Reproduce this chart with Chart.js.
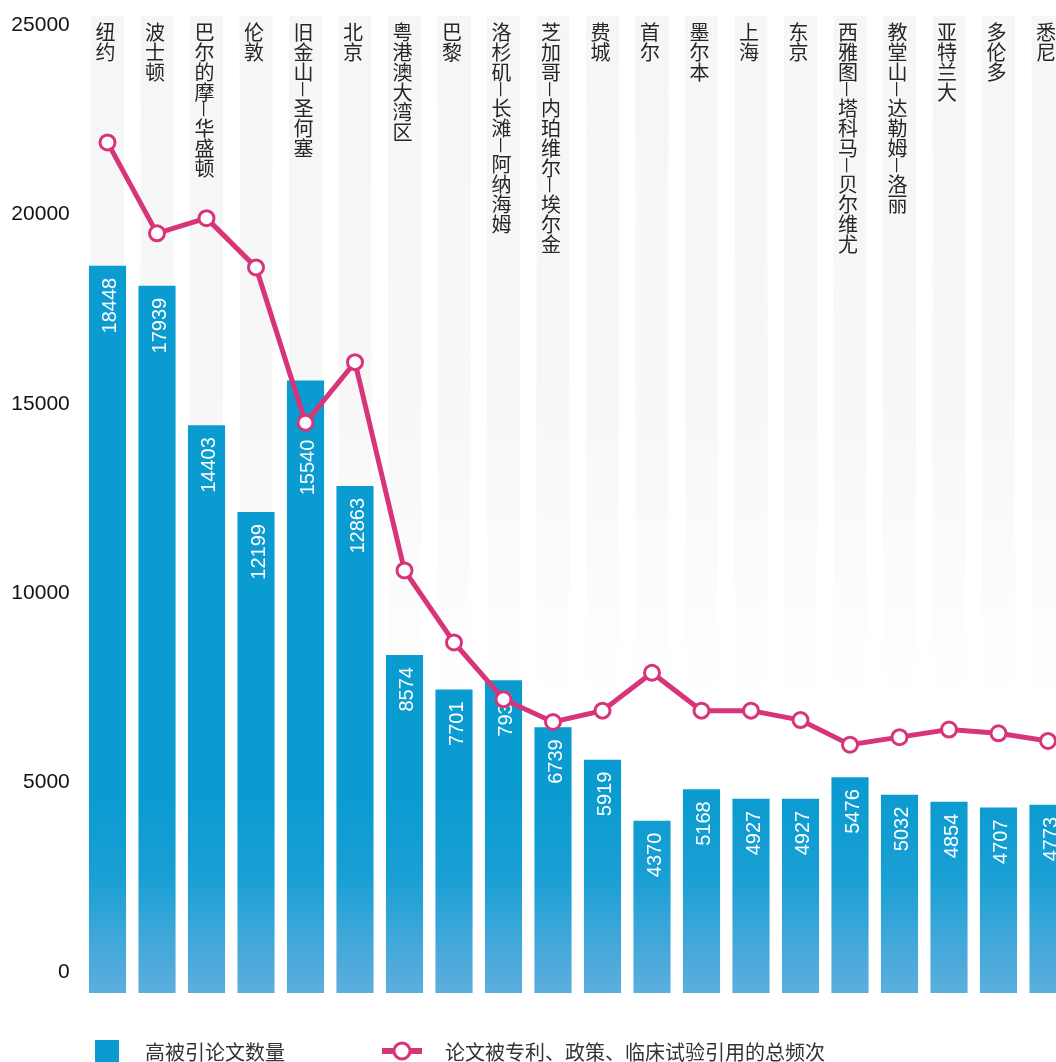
<!DOCTYPE html>
<html lang="zh">
<head>
<meta charset="utf-8">
<title>高被引论文数量与总引用频次</title>
<script src="https://cdn.jsdelivr.net/npm/chart.js@4/dist/chart.umd.min.js"></script>
<style>
  html, body { margin: 0; padding: 0; background: #fff; overflow: hidden; }
  canvas { display: block; }
</style>
</head>
<body>
<canvas id="cityChart" width="1090" height="1062"></canvas>
<script>
// data
const cities = [
  '纽约', '波士顿', '巴尔的摩–华盛顿', '伦敦', '旧金山–圣何塞', '北京',
  '粤港澳大湾区', '巴黎', '洛杉矶–长滩–阿纳海姆', '芝加哥–内珀维尔–埃尔金',
  '费城', '首尔', '墨尔本', '上海', '东京', '西雅图–塔科马–贝尔维尤',
  '教堂山–达勒姆–洛丽', '亚特兰大', '多伦多', '悉尼'
];
const highlyCitedPapers = [
  18448, 17939, 14403, 12199, 15540, 12863, 8574, 7701, 7935, 6739,
  5919, 4370, 5168, 4927, 4927, 5476, 5032, 4854, 4707, 4773
];
const citationFrequency = [
  21900, 19500, 19900, 18600, 14500, 16100, 10600, 8700, 7200, 6600,
  6900, 7900, 6900, 6900, 6650, 6000, 6200, 6400, 6300, 6100
];
const yTicks = [0, 5000, 10000, 15000, 20000, 25000];

const barLabel = '高被引论文数量';
const lineLabel = '论文被专利、政策、临床试验引用的总频次';

const PINK = '#d7347a';
const BLUE = '#0a9bd1';
const CJK = '"Noto Sans CJK SC", "Noto Sans", sans-serif';
const LATIN = '"Liberation Sans", Arial, sans-serif';

/* ─────────────────────────────────────────────
   Plugins
───────────────────────────────────────────── */

// grey stripes behind each category + vertical city names
const stripesPlugin = {
  id: 'stripes',
  beforeDatasetsDraw(chart) {
    const { ctx, chartArea } = chart;
    const x = chart.scales.x;
    const g = ctx.createLinearGradient(0, chartArea.top, 0, 710);
    g.addColorStop(0, '#f5f6f6');
    g.addColorStop(0.55, '#f7f7f7');
    g.addColorStop(1, '#ffffff');
    ctx.save();
    ctx.fillStyle = g;
    cities.forEach((c, i) => {
      const cx = x.getPixelForValue(i);
      ctx.fillRect(cx - 16.5, chartArea.top, 33, 710 - chartArea.top);
    });

    ctx.fillStyle = '#262626';
    ctx.font = '20px ' + CJK;
    ctx.textAlign = 'center';
    ctx.textBaseline = 'middle';
    cities.forEach((c, i) => {
      const cx = x.getPixelForValue(i) - 2;
      let cy = 21;
      for (const ch of c) {
        if (ch === '–') {
          // dash turns upright in vertical writing
          ctx.save();
          ctx.translate(cx + 1, cy + 8);
          ctx.rotate(Math.PI / 2);
          ctx.scale(1.6, 1);
          ctx.fillText(ch, 0, 0);
          ctx.restore();
          cy += 16;
        } else {
          ctx.fillText(ch, cx, cy + 11);
          cy += 20;
        }
      }
    });
    ctx.restore();
  }
};

// white rotated value inside the top of each bar
const barValuesPlugin = {
  id: 'barValues',
  afterDatasetDraw(chart, args) {
    if (args.index !== 0) return;
    const { ctx } = chart;
    const points = chart.getDatasetMeta(1).data;
    ctx.save();
    ctx.fillStyle = '#ffffff';
    ctx.font = '20px ' + LATIN;
    ctx.textAlign = 'right';
    ctx.textBaseline = 'alphabetic';
    args.meta.data.forEach((bar, i) => {
      let top = bar.y + 12;
      // move the label under the marker when the marker sits deep in the bar
      const p = points[i];
      if (p && p.y - bar.y > 30) top = p.y + 17;
      ctx.save();
      ctx.translate(bar.x, top);
      ctx.rotate(-Math.PI / 2);
      ctx.fillText(String(highlyCitedPapers[i]), 0, 8.5);
      ctx.restore();
    });
    ctx.restore();
  }
};

// legend under the plot, left aligned
const legendPlugin = {
  id: 'bottomLegend',
  afterDraw(chart) {
    const { ctx } = chart;
    const y = 1051;
    ctx.save();
    ctx.fillStyle = BLUE;
    ctx.fillRect(95, 1040, 24, 24);

    ctx.strokeStyle = PINK;
    ctx.lineWidth = 6;
    ctx.beginPath();
    ctx.moveTo(382, y);
    ctx.lineTo(422, y);
    ctx.stroke();
    ctx.beginPath();
    ctx.arc(402, y, 8, 0, Math.PI * 2);
    ctx.fillStyle = '#ffffff';
    ctx.fill();
    ctx.lineWidth = 3;
    ctx.stroke();

    ctx.fillStyle = '#333333';
    ctx.font = '20px ' + CJK;
    ctx.textAlign = 'left';
    ctx.textBaseline = 'middle';
    ctx.fillText(barLabel, 145, y + 1);
    ctx.fillText(lineLabel, 445, y + 1);
    ctx.restore();
  }
};

/* ─────────────────────────────────────────────
   Chart
───────────────────────────────────────────── */

function barGradient(context) {
  const { chart } = context;
  const area = chart.chartArea;
  if (!area) return BLUE;
  const g = chart.ctx.createLinearGradient(0, area.bottom, 0, area.top);
  const h = area.bottom - area.top;
  g.addColorStop(0, '#5caedd');
  g.addColorStop(55 / h, '#40a7d9');
  g.addColorStop(115 / h, '#1a9fd4');
  g.addColorStop(200 / h, '#0a9bd0');
  g.addColorStop(1, '#0a9bd0');
  return g;
}

new Chart(document.getElementById('cityChart'), {
  data: {
    labels: cities,
    datasets: [
      {
        type: 'bar',
        label: barLabel,
        data: highlyCitedPapers,
        yAxisID: 'yBar',
        backgroundColor: barGradient,
        barPercentage: 0.75,
        categoryPercentage: 1,
        order: 2
      },
      {
        type: 'line',
        label: lineLabel,
        data: citationFrequency,
        yAxisID: 'y',
        borderColor: PINK,
        borderWidth: 5,
        tension: 0,
        pointRadius: 7.5,
        pointBorderWidth: 3,
        pointBackgroundColor: '#ffffff',
        pointBorderColor: PINK,
        order: 1
      }
    ]
  },
  options: {
    responsive: false,
    animation: false,
    layout: { padding: { left: 0, right: 17.25, top: 16, bottom: 69 } },
    plugins: {
      legend: { display: false },
      tooltip: { enabled: false }
    },
    scales: {
      x: { display: false, offset: true },
      y: {
        position: 'left',
        min: -554.4,
        max: 25237.6,
        afterBuildTicks(scale) {
          scale.ticks = yTicks.map(v => ({ value: v }));
        },
        afterFit(scale) {
          scale.width = 82.75;
          scale.paddingTop = 0;
          scale.paddingBottom = 0;
        },
        grid: { display: false, drawTicks: false },
        border: { display: false },
        ticks: {
          padding: 13,
          color: '#111111',
          font: { family: LATIN, size: 21 },
          callback: v => String(v)
        }
      },
      yBar: {
        display: false,
        min: 0,
        max: 24784
      }
    }
  },
  plugins: [stripesPlugin, barValuesPlugin, legendPlugin]
});
</script>
</body>
</html>
